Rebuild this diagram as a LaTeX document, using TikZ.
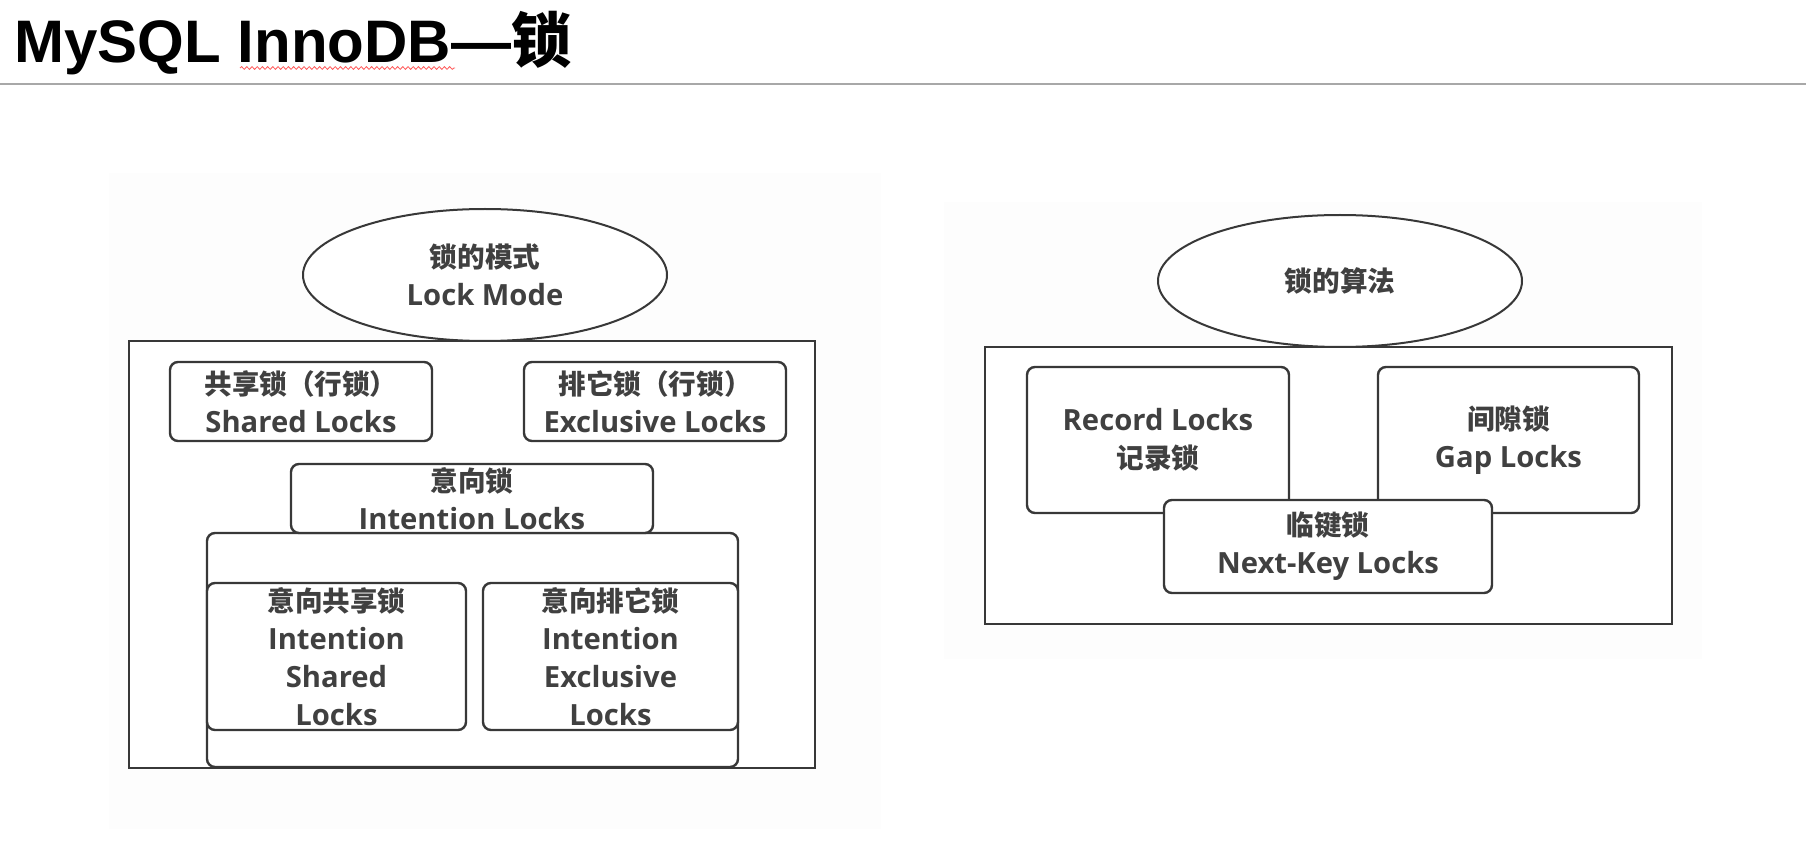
\documentclass[tikz,border=0pt]{standalone}
\usepackage{fontspec}
\setmainfont{Open Sans}
\newfontfamily\cjk{Noto Sans CJK SC}
\newfontfamily\titlefont{Liberation Sans}
\usetikzlibrary{shapes.geometric,decorations.pathmorphing}
\definecolor{txt}{HTML}{404040}
\definecolor{edge}{HTML}{383838}
\definecolor{sep}{HTML}{A8A8A8}
\definecolor{panel}{HTML}{FDFDFD}
\newcommand\zh[1]{{\cjk\bfseries #1}}
\newcommand\en[1]{{\bfseries\fontsize{14.6}{19}\selectfont #1}}
\begin{document}
\begin{tikzpicture}[x=0.5pt,y=-0.5pt,
  lbl/.style={text=txt, align=center, inner sep=0pt, font=\fontsize{13.8}{19}\selectfont},
  lockbox/.style={lbl, draw=edge, line width=1.2pt, rounded corners=4pt, fill=white},
  frame/.style={draw=edge, line width=1.2pt, fill=white},
  oval/.style={lbl, ellipse, draw=edge, line width=1pt, fill=white, minimum width=182pt, minimum height=66pt}
]
\useasboundingbox[fill=white] (0,0) rectangle (1806,850);
% faint background panels
\fill[panel] (109,173) rectangle (881,829);
\fill[panel] (944,202) rectangle (1702,659);
% title
\node[anchor=base west, inner sep=0pt, font=\titlefont\bfseries\fontsize{30}{36}\selectfont] (title) at (14,63) {MySQL InnoDB—{\cjk\bfseries 锁}};
\draw[red!65!white, line width=0.4pt, decorate, decoration={snake, amplitude=0.7pt, segment length=2.6pt}] (240,68) -- (455,68);
\coordinate (sepL) at (0,84);
\coordinate (sepR) at (1806,84);
\draw[sep, line width=1pt] (sepL) -- (sepR);

% ---------- left diagram ----------
\node[frame, minimum width=343pt, minimum height=213.5pt] (outerL) at (472,554.5) {};
\node[oval] (modeL) at (485,275) {\zh{锁的模式}\\\en{Lock Mode}};
\node[lockbox, minimum width=131pt, minimum height=39.5pt] (shared) at (301,401.5) {\zh{共享锁（行锁）}\\\en{Shared Locks}};
\node[lockbox, minimum width=131pt, minimum height=39.5pt] (excl) at (655,401.5) {\zh{排它锁（行锁）}\\\en{Exclusive Locks}};
\node[lockbox, minimum width=265.5pt, minimum height=117pt] (cont) at (472.5,650) {};
\node[lockbox, minimum width=181pt, minimum height=34.5pt] (intent) at (472,498.5) {\zh{意向锁}\\\en{Intention Locks}};
\node[lockbox, minimum width=129.5pt, minimum height=73.5pt] (is) at (336.5,656.5) {\zh{意向共享锁}\\\en{Intention}\\\en{Shared}\\\en{Locks}};
\node[lockbox, minimum width=127.5pt, minimum height=73.5pt] (ix) at (610.5,656.5) {\zh{意向排它锁}\\\en{Intention}\\\en{Exclusive}\\\en{Locks}};

% ---------- right diagram ----------
\node[frame, minimum width=343.5pt, minimum height=138.5pt] (outerR) at (1328.5,485.5) {};
\node[oval] (algo) at (1340,281) {\zh{锁的算法}};
\node[lockbox, minimum width=131pt, minimum height=73pt] (record) at (1158,440) {\en{Record Locks}\\\zh{记录锁}};
\node[lockbox, minimum width=130.5pt, minimum height=73pt] (gap) at (1508.5,440) {\zh{间隙锁}\\\en{Gap Locks}};
\node[lockbox, minimum width=164pt, minimum height=46.5pt] (nextkey) at (1328,546.5) {\zh{临键锁}\\\en{Next-Key Locks}};
\end{tikzpicture}
\end{document}
